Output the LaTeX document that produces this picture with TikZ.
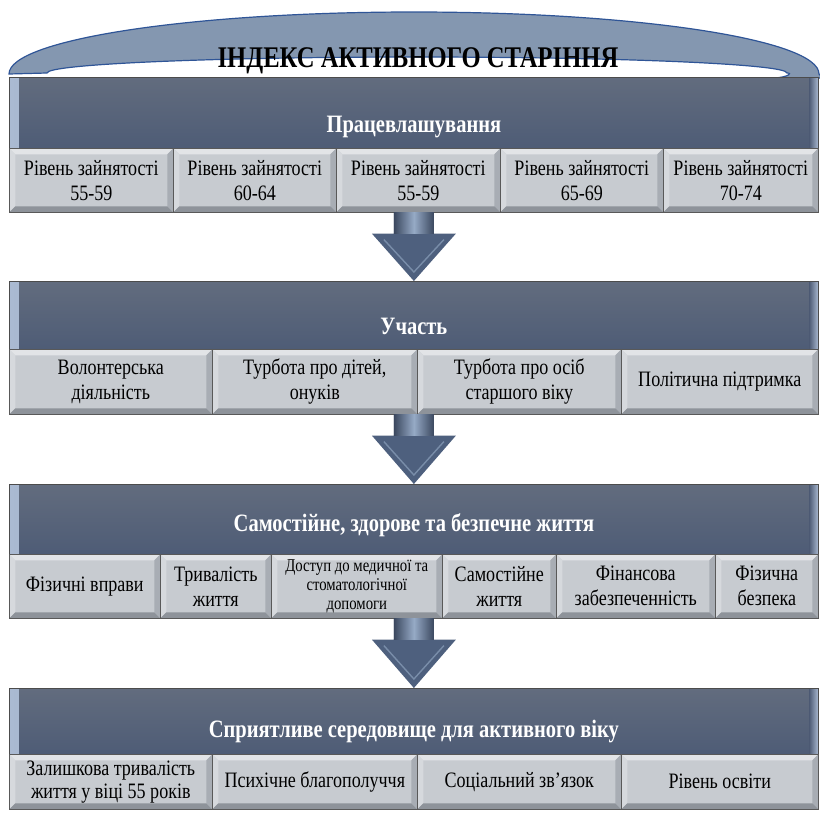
\documentclass[tikz,border=0pt]{standalone}
\usepackage{fontspec}
\setmainfont{Liberation Serif}[FakeStretch=0.82]
\usetikzlibrary{calc}

\definecolor{arcfill}{RGB}{132,151,176}
\definecolor{arcline}{RGB}{47,85,151}
\definecolor{bandtop}{RGB}{98,108,126}
\definecolor{bandbot}{RGB}{78,92,118}
\definecolor{bandhl}{RGB}{170,186,210}
\definecolor{subfill}{RGB}{199,203,208}
\definecolor{bevtop}{RGB}{226,228,231}
\definecolor{bevleft}{RGB}{214,217,221}
\definecolor{bevright}{RGB}{168,173,180}
\definecolor{bevbot}{RGB}{142,147,154}
\definecolor{arrowfill}{RGB}{78,96,126}
\definecolor{arrowhl}{RGB}{150,170,198}

\tikzset{
  bandhead/.style={draw=black!70, line width=0.8pt, top color=bandtop, bottom color=bandbot,
    minimum width=809pt, minimum height=#1, inner sep=0pt, anchor=north west,
    text=white, font=\fontsize{25}{27}\selectfont\bfseries, text depth=6pt,
    path picture={
      \shade[left color=bandhl, right color=bandbot!90!bandtop]
        (path picture bounding box.north west) rectangle ([xshift=9pt]path picture bounding box.south west);
      \shade[right color=bandhl, left color=bandbot!90!bandtop]
        ([xshift=-9pt]path picture bounding box.north east) rectangle (path picture bounding box.south east);
    }},
  bandhead/.default=70pt,
  subbox/.style={draw=black!65, line width=0.6pt, fill=subfill, minimum height=#1,
    inner sep=0pt, anchor=north west, align=center,
    path picture={
      \coordinate (bnw) at (path picture bounding box.north west);
      \coordinate (bse) at (path picture bounding box.south east);
      \coordinate (bne) at (bnw-|bse);
      \coordinate (bsw) at (bnw|-bse);
      \fill[bevtop] (bnw) -- (bne) -- ([shift={(-6pt,-6pt)}]bne) -- ([shift={(6pt,-6pt)}]bnw) -- cycle;
      \fill[bevleft] (bnw) -- ([shift={(6pt,-6pt)}]bnw) -- ([shift={(6pt,6pt)}]bsw) -- (bsw) -- cycle;
      \fill[bevright] (bne) -- ([shift={(-6pt,-6pt)}]bne) -- ([shift={(-6pt,6pt)}]bse) -- (bse) -- cycle;
      \fill[bevbot] (bsw) -- ([shift={(6pt,6pt)}]bsw) -- ([shift={(-6pt,6pt)}]bse) -- (bse) -- cycle;
    }},
  subbox/.default=64pt,
  titletext/.style={font=\fontsize{30}{32}\selectfont\bfseries, inner sep=0pt}
}

% block arrow: #1 = top of shaft, #2 = tip
\newcommand{\flowarrow}[2]{%
  \coordinate (fa) at (#1);
  \coordinate (fb) at (#2);
  \fill[arrowfill] ($(fa)+(-20,0)$) -- ($(fa)+(20,0)$) -- ($(fa)+(20,21)$) -- ($(fa)+(42,21)$)
    -- (fb) -- ($(fa)+(-42,21)$) -- ($(fa)+(-20,21)$) -- cycle;
  \shade[left color=arrowfill!75!black, right color=arrowfill!75!black, middle color=arrowhl]
    ($(fa)+(-20,0)$) rectangle ($(fa)+(20,21)$);
  \draw[arrowhl!60!arrowfill, line width=1.4pt] ($(fa)+(-30,27)$) -- ($(fb)+(0,-9)$) -- ($(fa)+(30,27)$);
}

\begin{document}
\begin{tikzpicture}[x=1pt, y=-1pt]
  \useasboundingbox (0,0) rectangle (820,819);
  \clip (0,0) rectangle (820,819);
  % Banner
  \filldraw[fill=arcfill, draw=arcline, line width=1.2pt]
    (9,74) arc[start angle=180, end angle=0, x radius=405pt, y radius=62pt]
    -- (823,78) -- (775,78) .. controls (788,77) and (793,73) .. (787,73)
    arc[start angle=0, end angle=180, x radius=370pt, y radius=16pt] -- cycle;
  \node[titletext] (title) at (418,61) {ІНДЕКС АКТИВНОГО СТАРІННЯ};

  % Band 1
  \node[bandhead=71pt, text height=46pt] (head1) at (9,77) {Працевлашування};
  \foreach \xa/\xb/\txt [count=\i] in {9/173/{Рівень зайнятості\\55-59},
      173/336/{Рівень зайнятості\\60-64}, 336/500/{Рівень зайнятості\\55-59},
      500/663/{Рівень зайнятості\\65-69}, 663/818/{Рівень зайнятості\\70-74}}
    \node[subbox, minimum width={(\xb-\xa)*1pt}, font=\fontsize{22}{25}\selectfont] (e\i) at (\xa,148) {\txt};

  % Band 2
  \node[bandhead=68pt, text height=44pt] (head2) at (9,281) {Участь};
  \foreach \xa/\xb/\txt [count=\i] in {9/212/{Волонтерська\\діяльність},
      212/417/{Турбота про дітей,\\онуків}, 417/621/{Турбота про осіб\\старшого віку},
      621/818/{Політична підтримка}}
    \node[subbox=65pt, minimum width={(\xb-\xa)*1pt}, font=\fontsize{22}{25}\selectfont] (p\i) at (\xa,349) {\txt};

  % Band 3
  \node[bandhead=70pt, text height=30pt] (head3) at (9,484) {Самостійне, здорове та безпечне життя};
  \foreach \xa/\xb/\fs/\ls/\txt [count=\i] in {9/160/22/25/{Фізичні вправи},
      160/271/22/25/{Тривалість\\життя},
      271/442/18/19/{Доступ до медичної та\\стоматологічної\\допомоги},
      442/556/22/25/{Самостійне\\життя}, 556/715/22/25/{Фінансова\\забезпеченність},
      715/818/22/25/{Фізична\\безпека}}
    \node[subbox, minimum width={(\xb-\xa)*1pt}, font=\fontsize{\fs}{\ls}\selectfont] (s\i) at (\xa,554) {\txt};

  % Band 4
  \node[bandhead=66pt, text height=38pt] (head4) at (9,688) {Сприятливе середовище для активного віку};
  \foreach \xa/\xb/\txt [count=\i] in {9/212/{Залишкова тривалість\\життя у віці 55 років},
      212/417/{Психічне благополуччя}, 417/621/{Соціальний зв’язок},
      621/818/{Рівень освіти}}
    \node[subbox=55pt, minimum width={(\xb-\xa)*1pt}, font=\fontsize{22}{23}\selectfont] (c\i) at (\xa,754) {\txt};

  % Arrows between bands
  \flowarrow{e3.south -| head2.north}{head2.north}
  \flowarrow{p2.south -| head3.north}{head3.north}
  \flowarrow{s3.south -| head4.north}{head4.north}
\end{tikzpicture}
\end{document}
